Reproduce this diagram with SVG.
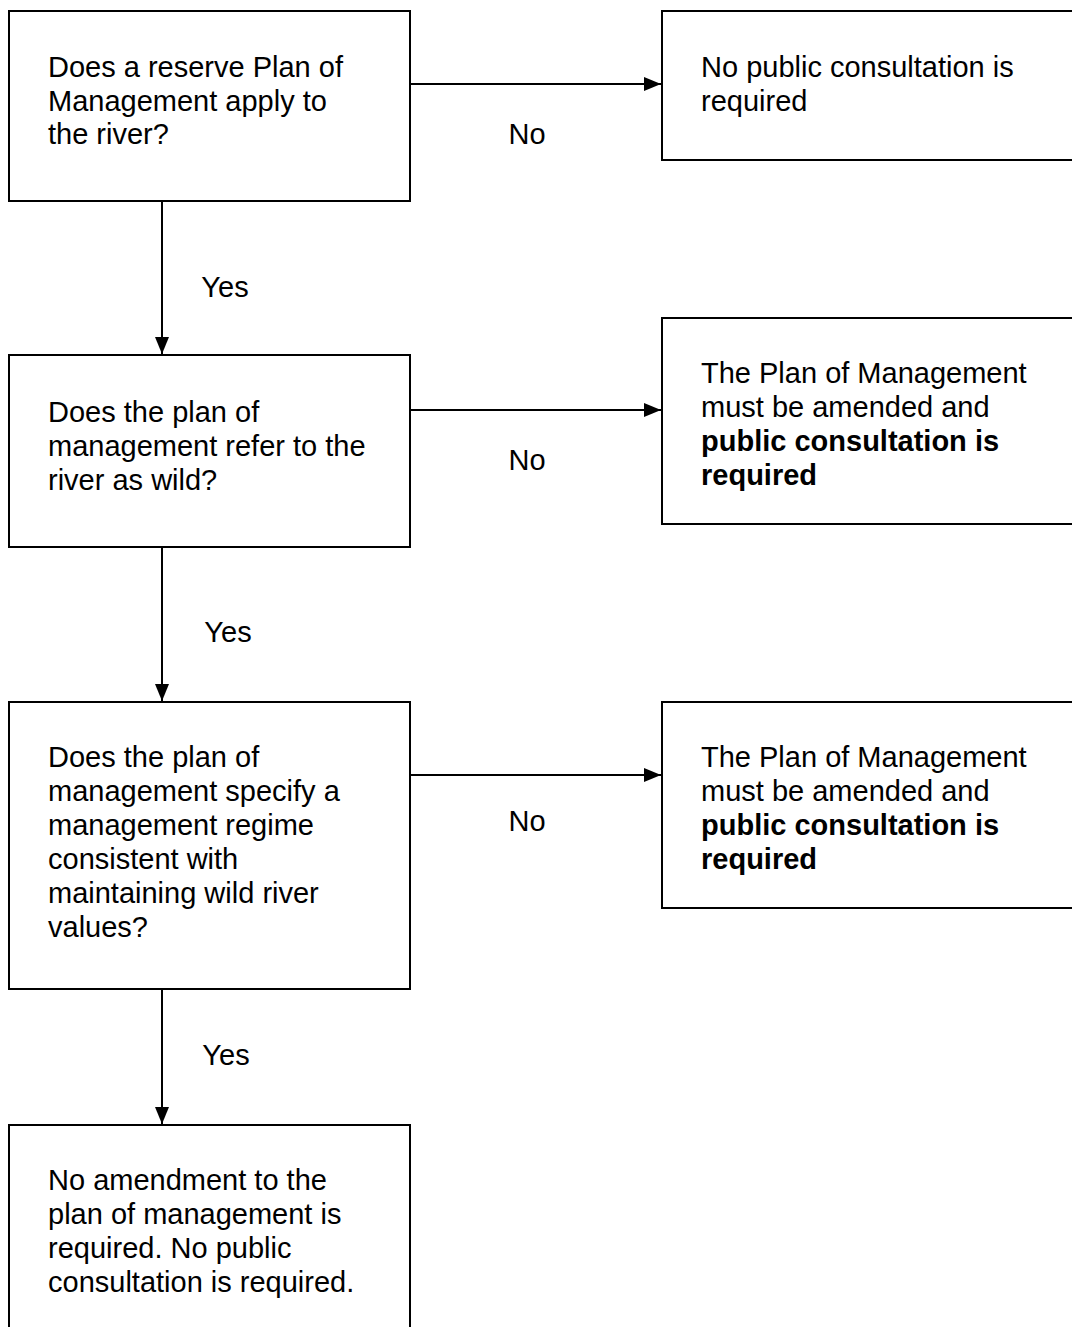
<svg xmlns="http://www.w3.org/2000/svg" width="1072" height="1327" viewBox="0 0 1072 1327">
<style>
.box{fill:#fff;stroke:#000;stroke-width:2}
.t{font-family:"Liberation Sans",Arial,sans-serif;font-size:29px;fill:#000}
.b{font-weight:bold}
.lbl{font-family:"Liberation Sans",Arial,sans-serif;font-size:29px;fill:#000;text-anchor:middle}
.c{stroke:#000;stroke-width:2;fill:none;marker-end:url(#ah)}
</style>
<defs>
<marker id="ah" markerWidth="17" markerHeight="14" refX="17" refY="7" orient="auto" markerUnits="userSpaceOnUse" viewBox="0 0 17 14">
<path d="M0,0 L17,7 L0,14 Z" fill="#000"/>
</marker>
</defs>
<rect width="1072" height="1327" fill="#fff"/>
<g id="connectors">
<line class="c" x1="411" y1="84" x2="661" y2="84"/>
<line class="c" x1="411" y1="410" x2="661" y2="410"/>
<line class="c" x1="411" y1="775" x2="661" y2="775"/>
<line class="c" x1="162" y1="202" x2="162" y2="354"/>
<line class="c" x1="162" y1="548" x2="162" y2="701"/>
<line class="c" x1="162" y1="990" x2="162" y2="1124"/>
<text class="lbl" x="527" y="144">No</text>
<text class="lbl" x="527" y="470">No</text>
<text class="lbl" x="527" y="831">No</text>
<text class="lbl" x="225" y="297">Yes</text>
<text class="lbl" x="228" y="642">Yes</text>
<text class="lbl" x="226" y="1065">Yes</text>
</g>
<g id="q1">
<rect class="box" x="9" y="11" width="401" height="190"/>
<text class="t"><tspan x="48" y="77">Does a reserve Plan of</tspan><tspan x="48" y="111">Management apply to</tspan><tspan x="48" y="144">the river?</tspan></text>
</g>
<g id="r1">
<rect class="box" x="662" y="11" width="420" height="149"/>
<text class="t"><tspan x="701" y="77">No public consultation is</tspan><tspan x="701" y="111">required</tspan></text>
</g>
<g id="q2">
<rect class="box" x="9" y="355" width="401" height="192"/>
<text class="t"><tspan x="48" y="422">Does the plan of</tspan><tspan x="48" y="456">management refer to the</tspan><tspan x="48" y="490">river as wild?</tspan></text>
</g>
<g id="r2">
<rect class="box" x="662" y="318" width="420" height="206"/>
<text class="t"><tspan x="701" y="383">The Plan of Management</tspan><tspan x="701" y="417">must be amended and</tspan><tspan class="b" x="701" y="451">public consultation is</tspan><tspan class="b" x="701" y="485">required</tspan></text>
</g>
<g id="q3">
<rect class="box" x="9" y="702" width="401" height="287"/>
<text class="t"><tspan x="48" y="767">Does the plan of</tspan><tspan x="48" y="801">management specify a</tspan><tspan x="48" y="835">management regime</tspan><tspan x="48" y="869">consistent with</tspan><tspan x="48" y="903">maintaining wild river</tspan><tspan x="48" y="937">values?</tspan></text>
</g>
<g id="r3">
<rect class="box" x="662" y="702" width="420" height="206"/>
<text class="t"><tspan x="701" y="767">The Plan of Management</tspan><tspan x="701" y="801">must be amended and</tspan><tspan class="b" x="701" y="835">public consultation is</tspan><tspan class="b" x="701" y="869">required</tspan></text>
</g>
<g id="end">
<rect class="box" x="9" y="1125" width="401" height="220"/>
<text class="t"><tspan x="48" y="1190">No amendment to the</tspan><tspan x="48" y="1224">plan of management is</tspan><tspan x="48" y="1258">required. No public</tspan><tspan x="48" y="1292">consultation is required.</tspan></text>
</g>
</svg>
